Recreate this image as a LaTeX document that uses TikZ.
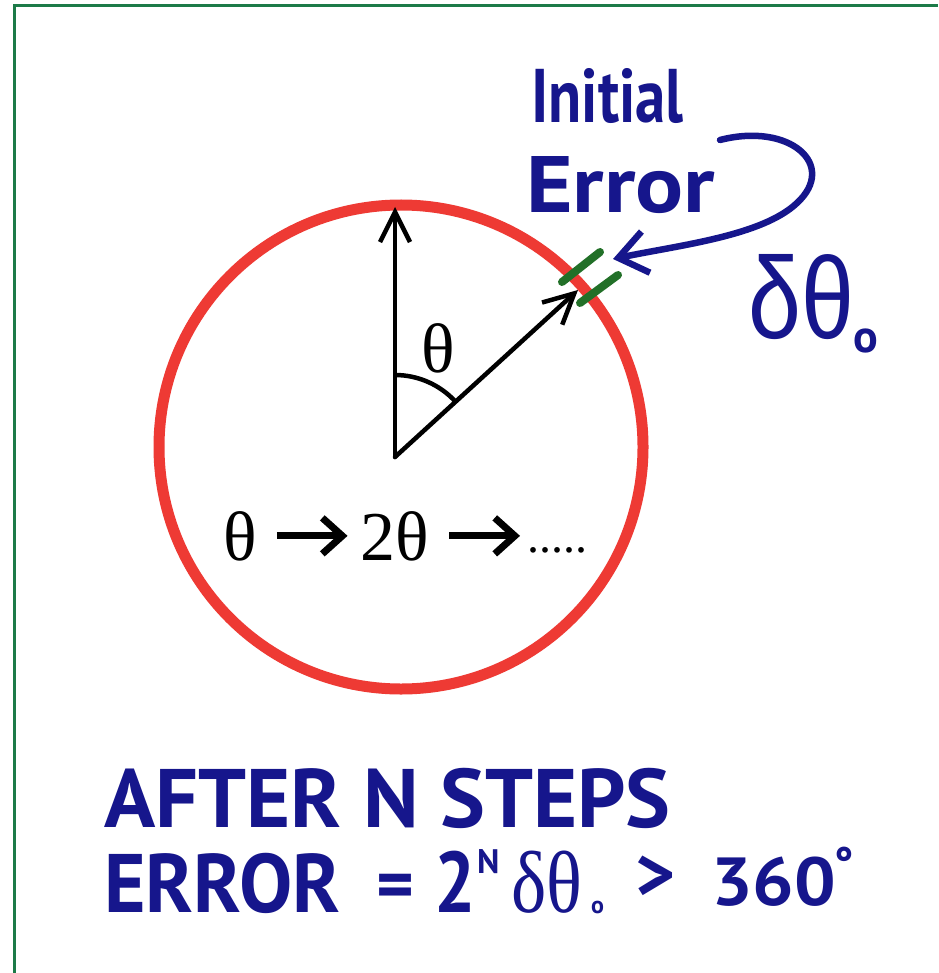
\documentclass[tikz,border=0pt]{standalone}
\usepackage{fontspec}
\usepackage{graphicx}
\setmainfont{Liberation Serif}
\newfontfamily\hand{PT Sans}
\newfontfamily\handg{Liberation Sans}
\usetikzlibrary{arrows.meta}
\definecolor{ink}{RGB}{22,22,140}
\definecolor{ringred}{RGB}{238,58,52}
\definecolor{tickgreen}{RGB}{34,112,40}
\definecolor{framegreen}{RGB}{28,122,72}
\begin{document}
\begin{tikzpicture}[x=1pt,y=-1pt,
  frame/.style={framegreen, line width=3pt},
  ring/.style={ringred, line width=11pt},
  tickmark/.style={tickgreen, line width=8pt, line cap=round},
  vec/.style={black, line width=4.5pt, line cap=round, -{Straight Barb[length=30pt,width=30pt]}},
  anglearc/.style={black, line width=4.5pt},
  boldarrow/.style={black, line width=7pt, -{Straight Barb[length=20pt,width=36pt]}},
  bluearrow/.style={ink, line width=6.5pt, line cap=round, -{Straight Barb[length=28pt,width=42pt]}},
  serifbig/.style={font=\fontsize{70pt}{74pt}\selectfont, inner sep=0pt},
  hw/.style={text=ink, inner sep=0pt}
]
\useasboundingbox (0,0) rectangle (938,973);
\fill[white] (0,0) rectangle (938,973);
\draw[frame] (14,973) -- (14,6) -- (938,6);

% circle and vectors
\coordinate (C) at (401,447);
\draw[ring] (C) circle[radius=242pt];
\coordinate (O) at (395,457);
\coordinate (N) at (395,207);
\coordinate (P) at (578,290);
\draw[vec] (O) -- (N);
\draw[vec] (O) -- (P);
\draw[anglearc] (395,375) arc[start angle=90,end angle=42.4,radius=82pt];
\node[serifbig] (thlab) at (438,348) {θ};

% green error ticks
\draw[tickmark] (562,282) -- (600,252);
\draw[tickmark] (580,303) -- (618,275);

% theta -> 2theta -> .....
\node[serifbig, anchor=base] (s1) at (240,560) {θ};
\node[serifbig, anchor=base] (s2) at (395,560) {2θ};
\node[font=\fontsize{48pt}{50pt}\selectfont, inner sep=0pt, anchor=base west] (s3) at (527,552) {.....};
\draw[boldarrow, shorten <=20pt, shorten >=13pt] (s1.east) -- (s2.west);
\draw[boldarrow, shorten <=20pt, shorten >=7pt] (s2.east) -- (s3.west |- s2.east);

% Initial Error annotation
\node[hw, font=\hand\bfseries\fontsize{76pt}{80pt}\selectfont, anchor=base west] (ini) at (531,123) {\scalebox{0.8}[1]{Initial}};
\node[hw, font=\hand\bfseries\fontsize{80pt}{84pt}\selectfont, anchor=base west] (err) at (526,213) {\scalebox{1.12}[1]{Error}};
\coordinate (cs) at (720,140);
\coordinate (ct) at (613,259);
\draw[bluearrow] (cs) .. controls (790,122) and (838,165) .. (797,203) .. controls (762,236) and (680,245) .. (ct);
\node[hw, font=\handg\fontsize{116pt}{120pt}\selectfont, anchor=base west] (dth) at (748,338) {\scalebox{0.82}[1]{δθ}};
\node[hw, font=\hand\bfseries\fontsize{46pt}{50pt}\selectfont, anchor=base west] (dsub) at (853,352) {o};

% bottom statement
\node[hw, font=\hand\bfseries\fontsize{83pt}{86pt}\selectfont, anchor=base west] (l1) at (104,827) {\scalebox{1.02}[1]{AFTER N STEPS}};
\node[hw, font=\hand\bfseries\fontsize{83pt}{86pt}\selectfont, anchor=base west] (l2a) at (104,912) {\scalebox{0.96}[1]{ERROR}};
\node[hw, font=\hand\bfseries\fontsize{72pt}{74pt}\selectfont] (l2eq) at (395,892) {=};
\node[hw, font=\hand\bfseries\fontsize{86pt}{90pt}\selectfont, anchor=base west] (l2two) at (434,912) {\scalebox{0.85}[1]{2}};
\node[hw, font=\hand\bfseries\fontsize{34pt}{36pt}\selectfont, anchor=base west] (l2n) at (477,873) {N};
\node[hw, font=\fontsize{88pt}{92pt}\selectfont, anchor=base west] (l2d) at (511,912) {\scalebox{0.85}[1]{δθ}};
\node[hw, font=\hand\bfseries\fontsize{24pt}{26pt}\selectfont, anchor=base west] (l2o) at (591,913) {o};
\node[hw, font=\hand\bfseries\fontsize{76pt}{78pt}\selectfont] (l2gt) at (656,878) {>};
\node[hw, font=\hand\bfseries\fontsize{68pt}{70pt}\selectfont, anchor=base west] (l2deg) at (711,905) {\scalebox{1.08}[1]{360}};
\node[hw, font=\hand\bfseries\fontsize{44pt}{46pt}\selectfont, anchor=base west] (l2dot) at (834,878) {°};
\end{tikzpicture}
\end{document}
